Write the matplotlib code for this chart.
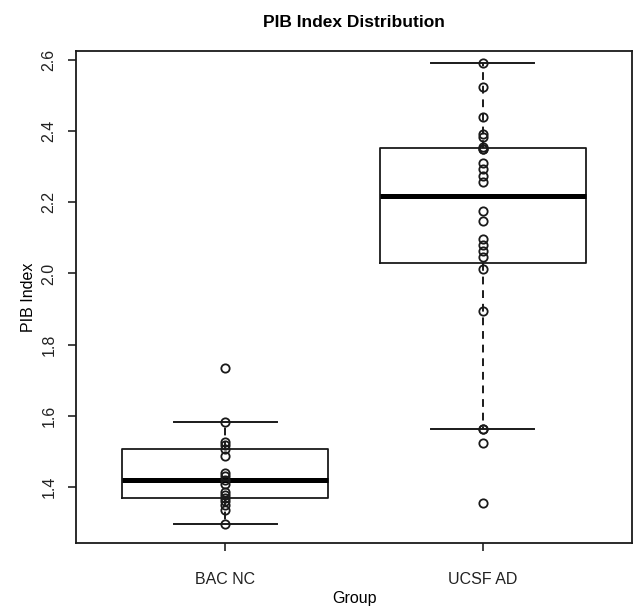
import matplotlib
matplotlib.use("Agg")
import matplotlib.pyplot as plt
import numpy as np

plt.rcParams['font.family'] = ['Liberation Sans', 'DejaVu Sans']

groups = ['BAC NC', 'UCSF AD']

bac_nc = [1.735, 1.583, 1.527, 1.517, 1.506, 1.487, 1.440, 1.431, 1.420, 1.410,
          1.386, 1.378, 1.370, 1.360, 1.350, 1.337, 1.297]
ucsf_ad = [2.590, 2.525, 2.438, 2.392, 2.384, 2.356, 2.350, 2.350, 2.311, 2.293,
           2.274, 2.258, 2.176, 2.148, 2.096, 2.080, 2.063, 2.046, 2.012, 1.895,
           1.562, 1.562, 1.524, 1.356]

data = [bac_nc, ucsf_ad]


def tukey_stats(vals, label):
    # R-style five number summary (hinges, not percentiles)
    x = np.sort(np.asarray(vals))
    n = len(x)
    n4 = np.floor((n + 3) / 2) / 2
    d = np.array([1, n4, (n + 1) / 2, n + 1 - n4, n]) - 1
    five = 0.5 * (x[np.floor(d).astype(int)] + x[np.ceil(d).astype(int)])
    q1, med, q3 = five[1], five[2], five[3]
    iqr = q3 - q1
    lo, hi = q1 - 1.5 * iqr, q3 + 1.5 * iqr
    inside = x[(x >= lo) & (x <= hi)]
    return dict(label=label, med=med, q1=q1, q3=q3,
                whislo=inside.min(), whishi=inside.max(),
                fliers=x[(x < lo) | (x > hi)])


stats = [tukey_stats(v, g) for v, g in zip(data, groups)]

fig = plt.figure(figsize=(6.34, 6.06), dpi=100)
ax = fig.add_axes([0.12, 0.104, 0.877, 0.812])

# fliers are covered by the point overlay below
ax.bxp(stats, positions=[1, 2], widths=0.8, showfliers=False,
       boxprops=dict(color='#1a1a1a', linewidth=1.3),
       medianprops=dict(color='black', linewidth=3.6, solid_capstyle='butt'),
       whiskerprops=dict(color='#1a1a1a', linewidth=1.4, linestyle=(0, (4, 3))),
       capprops=dict(color='#1a1a1a', linewidth=1.4),
       capwidths=0.4)

for i, vals in enumerate(data):
    ax.plot(np.full(len(vals), i + 1), vals, 'o', mfc='none', mec='#1a1a1a',
            ms=6, mew=1.3, zorder=3)

ax.set_xlim(0.42, 2.58)
ax.set_ylim(1.243, 2.625)
ax.set_xticks([1, 2])
ax.set_xticklabels(groups)
ax.set_yticks([1.4, 1.6, 1.8, 2.0, 2.2, 2.4, 2.6])
ax.set_yticklabels(['1.4', '1.6', '1.8', '2.0', '2.2', '2.4', '2.6'],
                   rotation=90, va='center')

ax.tick_params(axis='x', length=6, width=1.2, pad=15, labelsize=11.5, colors='#222222')
ax.tick_params(axis='y', length=6, width=1.2, pad=8, labelsize=11.5, colors='#222222')
for s in ax.spines.values():
    s.set_linewidth(1.3)
    s.set_color('#1a1a1a')

ax.set_title('PIB Index Distribution', fontsize=12.5, fontweight='bold', pad=17)
ax.set_xlabel('Group', fontsize=11.5, labelpad=3)
ax.set_ylabel('PIB Index', fontsize=11.5, labelpad=4)

fig.savefig('out.png', dpi=100)
